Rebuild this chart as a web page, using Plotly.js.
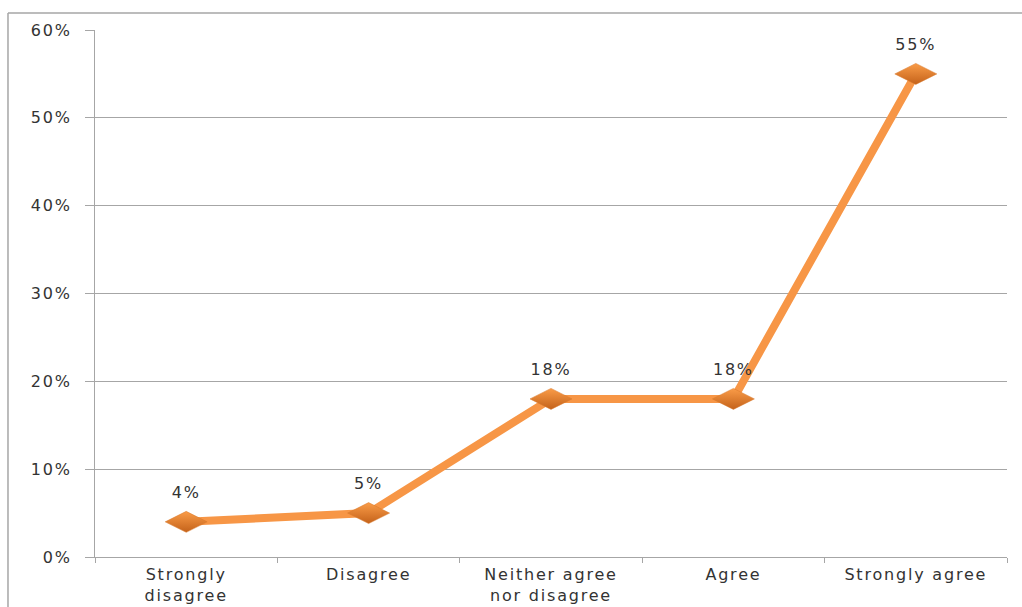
<!DOCTYPE html>
<html>
<head>
<meta charset="utf-8">
<script src="https://cdn.plot.ly/plotly-3.0.1.min.js"></script>
<style>
html, body { margin: 0; padding: 0; background: #fff; }
#chart { width: 1022px; height: 607px; }
#chart svg text { letter-spacing: 1.8px; }
</style>
</head>
<body>
<div id="chart"></div>
<script>
const categories = ["Strongly<br>disagree", "Disagree", "Neither agree<br>nor disagree", "Agree", "Strongly agree"];
const values = [0.04, 0.05, 0.18, 0.18, 0.55];
const labels = ["4%", "5%", "18%", "18%", "55%"];
const yTickVals = [0, 0.1, 0.2, 0.3, 0.4, 0.5, 0.6];
const yTickText = ["0%", "10%", "20%", "30%", "40%", "50%", "60%"];

const FONT = 'DejaVu Sans, sans-serif';
const TXT = '#333333';

const trace = {
  x: categories,
  y: values,
  type: 'scatter',
  mode: 'lines+markers+text',
  text: labels,
  textposition: 'top center',
  textfont: { family: FONT, size: 16, color: TXT },
  line: { color: '#F79646', width: 8 },
  marker: {
    symbol: 'diamond-wide',
    size: 30,
    color: '#FA9C48',
    gradient: { type: 'vertical', color: '#C4621A' },
    line: { color: '#D9782A', width: 0.5 }
  },
  cliponaxis: false,
  hoverinfo: 'skip'
};

const layout = {
  width: 1022,
  height: 607,
  margin: { l: 95, r: 15, t: 30, b: 50 },
  paper_bgcolor: '#ffffff',
  plot_bgcolor: '#ffffff',
  showlegend: false,
  font: { family: FONT, size: 16, color: TXT },
  xaxis: {
    type: 'category',
    range: [-0.5, 4.5],
    showgrid: false,
    showline: true,
    linecolor: '#a6a6a6',
    linewidth: 1,
    ticks: 'outside',
    tickson: 'boundaries',
    ticklen: 5,
    tickcolor: '#a6a6a6',
    ticklabelstandoff: 3,
    tickfont: { family: FONT, size: 16, color: TXT },
    zeroline: false,
    fixedrange: true
  },
  yaxis: {
    range: [0, 0.6],
    tickvals: yTickVals,
    ticktext: yTickText,
    showgrid: true,
    gridcolor: '#a6a6a6',
    gridwidth: 1,
    showline: true,
    linecolor: '#a6a6a6',
    linewidth: 1,
    ticks: 'outside',
    ticklen: 9,
    tickcolor: '#a6a6a6',
    ticklabelstandoff: 10,
    tickfont: { family: FONT, size: 16, color: TXT },
    zeroline: false,
    fixedrange: true
  },
  shapes: [
    { type: 'line', xref: 'paper', yref: 'paper', x0: -0.0954, x1: 1.05, y0: 1.0323, y1: 1.0323,
      line: { color: '#a6a6a6', width: 1.5 } },
    { type: 'line', xref: 'paper', yref: 'paper', x0: -0.0954, x1: -0.0954, y0: 1.0323, y1: -0.2,
      line: { color: '#a6a6a6', width: 1.5 } }
  ]
};

Plotly.newPlot('chart', [trace], layout, { displayModeBar: false, staticPlot: true });
</script>
</body>
</html>
